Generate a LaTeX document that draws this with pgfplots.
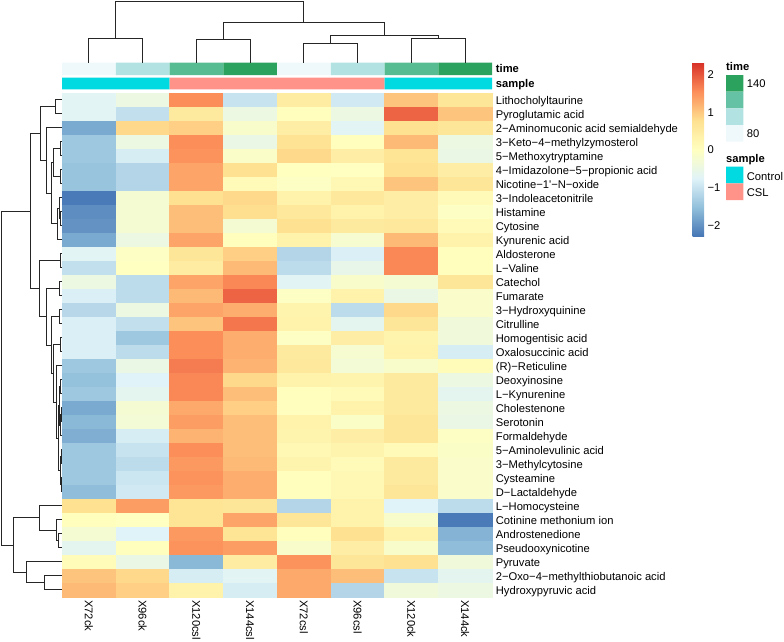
\documentclass[border=0pt]{standalone}
\usepackage{fontspec}
\setmainfont{Liberation Sans}
\usepackage{pgfplots}
\usepackage{pgfplotstable}
\pgfplotsset{compat=1.18}
\newcommand\lab{\fontsize{11.2}{13}\selectfont}
\definecolor{dgray}{HTML}{262626}
\definecolor{tA}{HTML}{EFF9FB}
\definecolor{tB}{HTML}{B2E2E2}
\definecolor{tC}{HTML}{58BC92}
\definecolor{tD}{HTML}{2CA25F}
\definecolor{tL}{HTML}{66C2A4}
\definecolor{ctrl}{HTML}{00DAE0}
\definecolor{csl}{HTML}{FF9289}

% rows top to bottom; columns X72ck X96ck X120csl X144csl X72csl X96csl X120ck X144ck
\pgfplotstableread{
r  a     b     c     d     e     f     g     h
0  -0.70 -0.45 1.55  -1.00 0.50  -0.90 1.05  0.65
1  -0.70 -1.05 0.55  -0.45 0.05  -0.45 1.90  1.05
2  -1.75 0.85  0.95  -0.15 0.45  -0.70 0.75  0.65
3  -1.40 -0.45 1.55  -0.50 0.72  0.05  1.15  -0.45
4  -1.40 -0.85 1.50  -0.10 0.85  0.45  0.70  -0.50
5  -1.45 -1.20 1.35  0.75  0.02  0.00  0.75  0.45
6  -1.45 -1.20 1.35  0.15  -0.05 0.20  1.05  0.65
7  -2.25 -0.25 0.75  0.85  0.35  0.60  0.45  0.15
8  -2.05 -0.25 1.10  0.80  0.60  0.35  0.45  -0.05
9  -2.00 -0.25 1.10  -0.25 0.75  0.55  0.60  0.15
10 -1.75 -0.45 1.35  0.05  0.35  -0.20 1.15  0.35
11 -0.70 -0.05 0.65  0.95  -1.20 -0.80 1.60  0.05
12 -1.05 0.00  0.50  1.15  -1.10 -0.55 1.60  0.05
13 -0.45 -1.10 1.35  1.60  -0.70 -0.15 -0.25 0.65
14 -0.80 -1.10 1.15  1.90  -0.05 0.35  -0.50 -0.12
15 -1.15 -0.45 1.35  1.25  0.30  -1.10 0.85  -0.12
16 -0.80 -1.05 1.05  1.75  0.35  -0.65 0.65  -0.35
17 -0.80 -1.40 1.55  1.25  -0.05 0.45  0.30  -0.35
18 -0.80 -1.10 1.55  1.25  0.55  -0.20 0.35  -0.85
19 -1.40 -0.50 1.70  1.20  0.60  -0.30 -0.15 0.10
20 -1.50 -0.75 1.60  0.85  0.35  0.30  0.55  -0.45
21 -1.40 -0.65 1.60  1.10  0.05  0.15  0.55  -0.65
22 -1.75 -0.25 1.30  0.95  0.03  0.35  0.55  -0.45
23 -1.60 -0.30 1.40  1.10  0.35  -0.08 0.65  -0.50
24 -1.70 -0.85 1.20  1.10  0.30  0.45  0.65  -0.05
25 -1.40 -1.00 1.55  1.10  0.20  0.30  0.15  -0.08
26 -1.40 -1.10 1.45  1.15  0.30  0.15  0.55  -0.12
27 -1.40 -0.95 1.50  1.25  0.05  0.20  0.55  -0.12
28 -1.55 -0.90 1.45  1.25  0.05  0.20  0.65  -0.12
29 0.75  1.40  0.70  0.65  -1.20 0.35  -0.75 -1.10
30 0.05  0.00  0.70  1.35  0.65  0.35  -0.15 -2.25
31 -0.25 -0.75 1.45  0.70  0.05  0.75  0.35  -1.65
32 -0.65 0.05  1.50  1.40  -0.15 0.45  -0.15 -1.55
33 0.10  -0.50 -1.60 0.50  1.50  0.65  0.75  -0.35
34 1.05  0.85  -0.85 -0.70 1.30  1.10  -1.00 -0.65
35 1.15  0.95  0.35  -0.85 1.30  -1.20 -0.35 -0.45
}\hm

\newcommand\cell[5]{\addplot[fill=#1, draw=none, no marks, forget plot] coordinates {(#2,#3) (#4,#3) (#4,#5) (#2,#5) (#2,#3)};}
\newcommand\hcol[2]{\addplot[hm] table[x expr=#1, y expr={99.7+14*\thisrow{r}}, meta=#2] {\hm};}
\newcommand\rl[2]{\node[anchor=base west, inner sep=0pt, font=\lab] at (axis cs:495.7,#1) {#2};}
\newcommand\cl[2]{\node[rotate=-90, anchor=west, inner sep=0pt, font=\lab] at (axis cs:#1,600) {#2};}

\begin{document}
\begin{tikzpicture}
\begin{axis}[name=ax, scale only axis, width=784pt, height=642pt,
  xmin=0, xmax=784, ymin=0, ymax=642, y dir=reverse,
  axis line style={draw=none}, xtick=\empty, ytick=\empty, clip=false,
  dend/.style={no marks, line width=1pt, color=dgray, forget plot},
  hm/.style={scatter, only marks, mark=square*, mark size=7pt,
    point meta=explicit, forget plot,
    mark options={xscale=3.8393, line width=0.3pt},
    scatter/use mapped color={draw=mapped color, fill=mapped color}},
  colormap={rdylbu}{rgb255=(69,117,180) rgb255=(145,191,219) rgb255=(224,243,248) rgb255=(255,255,191) rgb255=(254,224,144) rgb255=(252,141,89) rgb255=(215,48,39)},
  point meta min=-2.3, point meta max=2.33,
  colorbar,
  colorbar shift/.style={},
  colorbar style={name=cb, at={(parent axis.north west)}, anchor=north west,
    xshift=692.7pt, yshift=-62.3pt, width=11.3pt, height=174.4pt,
    scale only axis, y dir=normal, xmin=0, xmax=1, ymin=-2.3, ymax=2.33,
    axis line style={draw=none}, xtick=\empty,
    ytick={-2,-1,0,1,2}, yticklabels={−2,−1,0,1,2},
    major tick length=0pt, yticklabel style={font=\lab}},
]
% heatmap, one column of cells per sample
\hcol{88.875}{a}
\hcol{142.625}{b}
\hcol{196.375}{c}
\hcol{250.125}{d}
\hcol{303.875}{e}
\hcol{357.625}{f}
\hcol{411.375}{g}
\hcol{465.125}{h}

% annotation: time
\cell{tA}{62}{62.7}{115.75}{75}
\cell{tB}{115.75}{62.7}{169.5}{75}
\cell{tC}{169.5}{62.7}{223.25}{75}
\cell{tD}{223.25}{62.7}{277}{75}
\cell{tA}{277}{62.7}{330.75}{75}
\cell{tB}{330.75}{62.7}{384.5}{75}
\cell{tC}{384.5}{62.7}{438.25}{75}
\cell{tD}{438.25}{62.7}{492}{75}
% annotation: sample
\cell{ctrl}{62}{77.7}{169.5}{89.3}
\cell{csl}{169.5}{77.7}{384.5}{89.3}
\cell{ctrl}{384.5}{77.7}{492}{89.3}

% legends
\cell{tD}{726}{75}{743.3}{91.7}
\cell{tL}{726}{91.7}{743.3}{108.3}
\cell{tB}{726}{108.3}{743.3}{125}
\cell{tA}{726}{125}{743.3}{141.7}
\cell{ctrl}{726}{166.7}{743.3}{183.3}
\cell{csl}{726}{183.3}{743.3}{200}

% column dendrogram
\addplot[dend] coordinates {(88.9,62.7) (88.9,38.3) (142.6,38.3) (142.6,62.7)};
\addplot[dend] coordinates {(196.4,62.7) (196.4,39.3) (250.1,39.3) (250.1,62.7)};
\addplot[dend] coordinates {(303.9,62.7) (303.9,43.3) (357.6,43.3) (357.6,62.7)};
\addplot[dend] coordinates {(411.4,62.7) (411.4,38.3) (465.1,38.3) (465.1,62.7)};
\addplot[dend] coordinates {(330.75,43.3) (330.75,36) (438.25,36) (438.25,38.3)};
\addplot[dend] coordinates {(223.25,39.3) (223.25,22.7) (384.5,22.7) (384.5,36)};
\addplot[dend] coordinates {(115.75,38.3) (115.75,1.7) (303.9,1.7) (303.9,22.7)};

% row dendrogram
\addplot[dend] coordinates {(62,99.7) (55,99.7) (55,113.7) (62,113.7)};
\addplot[dend] coordinates {(62,141.7) (60,141.7) (60,155.7) (62,155.7)};
\addplot[dend] coordinates {(62,169.7) (60.7,169.7) (60.7,183.7) (62,183.7)};
\addplot[dend] coordinates {(60,148.7) (53,148.7) (53,176.7) (60.7,176.7)};
\addplot[dend] coordinates {(62,211.7) (60.7,211.7) (60.7,225.7) (62,225.7)};
\addplot[dend] coordinates {(62,197.7) (59.3,197.7) (59.3,218.7) (60.7,218.7)};
\addplot[dend] coordinates {(59.3,208.2) (57.3,208.2) (57.3,239.7) (62,239.7)};
\addplot[dend] coordinates {(53,162.7) (51.7,162.7) (51.7,223.95) (57.3,223.95)};
\addplot[dend] coordinates {(62,127.7) (46,127.7) (46,193.3) (51.7,193.3)};
\addplot[dend] coordinates {(55,106.7) (40,106.7) (40,160.5) (46,160.5)};
\addplot[dend] coordinates {(62,253.7) (60.7,253.7) (60.7,267.7) (62,267.7)};
\addplot[dend] coordinates {(62,281.7) (59.3,281.7) (59.3,295.7) (62,295.7)};
\addplot[dend] coordinates {(62,309.7) (59.3,309.7) (59.3,323.7) (62,323.7)};
\addplot[dend] coordinates {(62,337.7) (60,337.7) (60,351.7) (62,351.7)};
\addplot[dend] coordinates {(62,379.7) (60.3,379.7) (60.3,393.7) (62,393.7)};
\addplot[dend] coordinates {(62,407.7) (61,407.7) (61,421.7) (62,421.7)};
\addplot[dend] coordinates {(61,414.7) (60.5,414.7) (60.5,435.7) (62,435.7)};
\addplot[dend] coordinates {(60.3,386.7) (59.5,386.7) (59.5,425.2) (60.5,425.2)};
\addplot[dend] coordinates {(62,449.7) (61.2,449.7) (61.2,463.7) (62,463.7)};
\addplot[dend] coordinates {(62,477.7) (61,477.7) (61,491.7) (62,491.7)};
\addplot[dend] coordinates {(61.2,456.7) (60.5,456.7) (60.5,484.7) (61,484.7)};
\addplot[dend] coordinates {(59.5,405.95) (58.5,405.95) (58.5,470.7) (60.5,470.7)};
\addplot[dend] coordinates {(62,365.7) (56,365.7) (56,438.3) (58.5,438.3)};
\addplot[dend] coordinates {(60,344.7) (53.3,344.7) (53.3,402) (56,402)};
\addplot[dend] coordinates {(59.3,316.7) (51.7,316.7) (51.7,373.35) (53.3,373.35)};
\addplot[dend] coordinates {(59.3,288.7) (46.7,288.7) (46.7,345) (51.7,345)};
\addplot[dend] coordinates {(60.7,260.7) (39.3,260.7) (39.3,316.85) (46.7,316.85)};
\addplot[dend] coordinates {(40,133.6) (30,133.6) (30,288.8) (39.3,288.8)};
\addplot[dend] coordinates {(62,533.7) (58.7,533.7) (58.7,547.7) (62,547.7)};
\addplot[dend] coordinates {(62,519.7) (56.7,519.7) (56.7,540.7) (58.7,540.7)};
\addplot[dend] coordinates {(62,505.7) (39.3,505.7) (39.3,530.2) (56.7,530.2)};
\addplot[dend] coordinates {(62,575.7) (44,575.7) (44,589.7) (62,589.7)};
\addplot[dend] coordinates {(62,561.7) (26.7,561.7) (26.7,582.7) (44,582.7)};
\addplot[dend] coordinates {(39.3,517.95) (13.3,517.95) (13.3,572.2) (26.7,572.2)};
\addplot[dend] coordinates {(30,211.2) (1.7,211.2) (1.7,545.1) (13.3,545.1)};

% row labels
\node[anchor=base west, inner sep=0pt, font=\lab\bfseries] at (axis cs:495.7,72.85) {time};
\node[anchor=base west, inner sep=0pt, font=\lab\bfseries] at (axis cs:495.7,87.3) {sample};
\rl{104.2}{Lithocholyltaurine}
\rl{118.2}{Pyroglutamic acid}
\rl{132.2}{2−Aminomuconic acid semialdehyde}
\rl{146.2}{3−Keto−4−methylzymosterol}
\rl{160.2}{5−Methoxytryptamine}
\rl{174.2}{4−Imidazolone−5−propionic acid}
\rl{188.2}{Nicotine−1\textquotesingle−N−oxide}
\rl{202.2}{3−Indoleacetonitrile}
\rl{216.2}{Histamine}
\rl{230.2}{Cytosine}
\rl{244.2}{Kynurenic acid}
\rl{258.2}{Aldosterone}
\rl{272.2}{L−Valine}
\rl{286.2}{Catechol}
\rl{300.2}{Fumarate}
\rl{314.2}{3−Hydroxyquinine}
\rl{328.2}{Citrulline}
\rl{342.2}{Homogentisic acid}
\rl{356.2}{Oxalosuccinic acid}
\rl{370.2}{(R)−Reticuline}
\rl{384.2}{Deoxyinosine}
\rl{398.2}{L−Kynurenine}
\rl{412.2}{Cholestenone}
\rl{426.2}{Serotonin}
\rl{440.2}{Formaldehyde}
\rl{454.2}{5−Aminolevulinic acid}
\rl{468.2}{3−Methylcytosine}
\rl{482.2}{Cysteamine}
\rl{496.2}{D−Lactaldehyde}
\rl{510.2}{L−Homocysteine}
\rl{524.2}{Cotinine methonium ion}
\rl{538.2}{Androstenedione}
\rl{552.2}{Pseudooxynicotine}
\rl{566.2}{Pyruvate}
\rl{580.2}{2−Oxo−4−methylthiobutanoic acid}
\rl{594.2}{Hydroxypyruvic acid}

% column labels
\cl{88.9}{X72ck}
\cl{142.6}{X96ck}
\cl{196.4}{X120csl}
\cl{250.1}{X144csl}
\cl{303.9}{X72csl}
\cl{357.6}{X96csl}
\cl{411.4}{X120ck}
\cl{465.1}{X144ck}

% legend texts
\node[anchor=base west, inner sep=0pt, font=\lab\bfseries] at (axis cs:726,70.7) {time};
\node[anchor=base west, inner sep=0pt, font=\lab] at (axis cs:746.7,87.3) {140};
\node[anchor=base west, inner sep=0pt, font=\lab] at (axis cs:746.7,137.3) {80};
\node[anchor=base west, inner sep=0pt, font=\lab\bfseries] at (axis cs:726,162.3) {sample};
\node[anchor=base west, inner sep=0pt, font=\lab] at (axis cs:746.7,180) {Control};
\node[anchor=base west, inner sep=0pt, font=\lab] at (axis cs:746.7,196.7) {CSL};
\end{axis}
\pgfresetboundingbox
\path (ax.south west) rectangle (ax.north east);
\end{tikzpicture}
\end{document}
